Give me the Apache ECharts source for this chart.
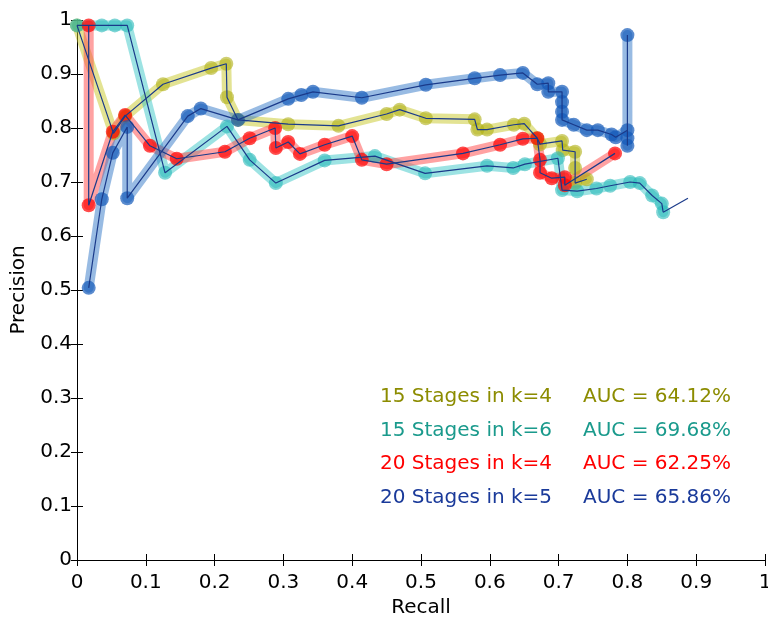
<!DOCTYPE html>
<html>
<head>
<meta charset="utf-8">
<script src="https://cdn.jsdelivr.net/npm/echarts@6/dist/echarts.min.js"></script>
<style>
html,body{margin:0;padding:0;background:#fff;}
#chart{width:768px;height:622px;}
</style>
</head>
<body>
<div id="chart"></div>
<script>
// ---- data ----
var seriesNames = ['15 Stages in k=4', '15 Stages in k=6', '20 Stages in k=4', '20 Stages in k=5'];
var aucLabels = ['AUC = 64.12%', 'AUC = 69.68%', 'AUC = 62.25%', 'AUC = 65.86%'];
var xTicks = [0, 0.1, 0.2, 0.3, 0.4, 0.5, 0.6, 0.7, 0.8, 0.9, 1];
var yTicks = [0, 0.1, 0.2, 0.3, 0.4, 0.5, 0.6, 0.7, 0.8, 0.9, 1];

var yellowPts = [[0,0.99],[0.053,0.79],[0.07,0.822],[0.125,0.881],[0.195,0.911],[0.217,0.919],[0.218,0.857],[0.234,0.815],[0.307,0.807],[0.38,0.804],[0.45,0.826],[0.469,0.834],[0.507,0.818],[0.578,0.816],[0.582,0.797],[0.596,0.797],[0.635,0.806],[0.65,0.808],[0.669,0.781],[0.673,0.77],[0.705,0.776],[0.706,0.759],[0.724,0.756],[0.724,0.726],[0.724,0.698],[0.741,0.705]];
var cyanPts = [[0,0.99],[0.036,0.99],[0.055,0.99],[0.073,0.99],[0.128,0.717],[0.218,0.803],[0.251,0.741],[0.289,0.698],[0.36,0.74],[0.433,0.748],[0.506,0.716],[0.596,0.73],[0.634,0.726],[0.651,0.733],[0.699,0.744],[0.705,0.685],[0.727,0.683],[0.755,0.688],[0.775,0.693],[0.804,0.70],[0.818,0.698],[0.836,0.675],[0.85,0.66],[0.852,0.644]];
var cyanTail = [[0.852,0.644],[0.888,0.67]];
var redPts = [[0.017,0.99],[0.017,0.657],[0.052,0.793],[0.07,0.824],[0.106,0.767],[0.145,0.743],[0.215,0.756],[0.251,0.781],[0.288,0.80],[0.289,0.763],[0.307,0.774],[0.324,0.752],[0.36,0.769],[0.40,0.785],[0.414,0.741],[0.45,0.733],[0.561,0.753],[0.615,0.769],[0.648,0.78],[0.669,0.781],[0.673,0.741],[0.673,0.717],[0.69,0.707],[0.709,0.709],[0.709,0.694],[0.782,0.753]];
var bluePts = [[0.017,0.504],[0.036,0.668],[0.052,0.754],[0.073,0.802],[0.073,0.67],[0.161,0.822],[0.18,0.836],[0.234,0.815],[0.307,0.854],[0.326,0.861],[0.343,0.867],[0.414,0.856],[0.507,0.88],[0.578,0.892],[0.615,0.898],[0.648,0.902],[0.669,0.881],[0.685,0.883],[0.685,0.867],[0.705,0.867],[0.705,0.848],[0.705,0.83],[0.705,0.815],[0.722,0.806],[0.741,0.796],[0.757,0.796],[0.777,0.788],[0.783,0.783],[0.80,0.796],[0.80,0.972],[0.80,0.781],[0.80,0.767]];

var lineColors = ['rgba(200,200,40,0.5)', 'rgba(60,200,200,0.5)', 'rgba(255,70,70,0.5)', 'rgba(50,120,200,0.5)'];
var dotColors = ['rgba(175,175,20,0.6)', 'rgba(40,185,185,0.6)', 'rgba(255,0,0,0.7)', 'rgba(20,90,185,0.7)'];
var textColors = ['#8c8c00', '#1a9a8c', '#ff0000', '#1a3a9a'];
var thinColor = '#1a3a8a';

var allData = [yellowPts, cyanPts, redPts, bluePts];
var FONT = 'DejaVu Sans';

var series = [];
allData.forEach(function (d, i) {
  series.push({
    type: 'line', name: seriesNames[i], data: d, z: 2,
    symbol: 'circle', symbolSize: 14,
    lineStyle: { color: lineColors[i], width: 10, join: 'round', cap: 'round' },
    itemStyle: { color: dotColors[i] },
    silent: true, animation: false
  });
});
allData.concat([cyanTail]).forEach(function (d) {
  series.push({
    type: 'line', data: d, z: 5, symbol: 'none',
    lineStyle: { color: thinColor, width: 1.2 },
    silent: true, animation: false
  });
});

var graphics = [];
var rowY = [399, 433, 466, 500];
seriesNames.forEach(function (n, i) {
  graphics.push({ type: 'text', left: 380, top: rowY[i] - 12, style: { text: n, fill: textColors[i], font: '20px "DejaVu Sans"' } });
  graphics.push({ type: 'text', left: 583, top: rowY[i] - 12, style: { text: aucLabels[i], fill: textColors[i], font: '20px "DejaVu Sans"' } });
});

var axisCommon = {
  type: 'value', min: 0, max: 1, interval: 0.1,
  axisLine: { show: true, lineStyle: { color: '#000', width: 1 } },
  axisTick: { show: true, inside: true, length: 6, lineStyle: { color: '#000' } },
  splitLine: { show: false }
};

var chart = echarts.init(document.getElementById('chart'));
chart.setOption({
  animation: false,
  backgroundColor: '#fff',
  grid: { left: 77, right: 3, top: 20, bottom: 62, containLabel: false, outerBoundsMode: 'none' },
  xAxis: [
    Object.assign({}, axisCommon, {
      position: 'bottom', name: 'Recall', nameLocation: 'middle', nameGap: 37,
      nameTextStyle: { fontFamily: FONT, fontSize: 20, color: '#000' },
      axisLabel: { fontFamily: FONT, fontSize: 20, color: '#000', margin: 13,
        formatter: function (v) { var r = Math.round(v * 10) / 10; return xTicks.indexOf(r) >= 0 ? String(r) : ''; } }
    }),
    Object.assign({}, axisCommon, { position: 'top', axisLabel: { show: false } })
  ],
  yAxis: [
    Object.assign({}, axisCommon, {
      position: 'left', name: 'Precision', nameLocation: 'middle', nameGap: 47,
      nameTextStyle: { fontFamily: FONT, fontSize: 20, color: '#000' },
      axisLabel: { fontFamily: FONT, fontSize: 20, color: '#000', margin: 5,
        formatter: function (v) { var r = Math.round(v * 10) / 10; return yTicks.indexOf(r) >= 0 ? String(r) : ''; } }
    }),
    Object.assign({}, axisCommon, { position: 'right', axisLabel: { show: false } })
  ],
  graphic: graphics,
  series: series
});
</script>
</body>
</html>
